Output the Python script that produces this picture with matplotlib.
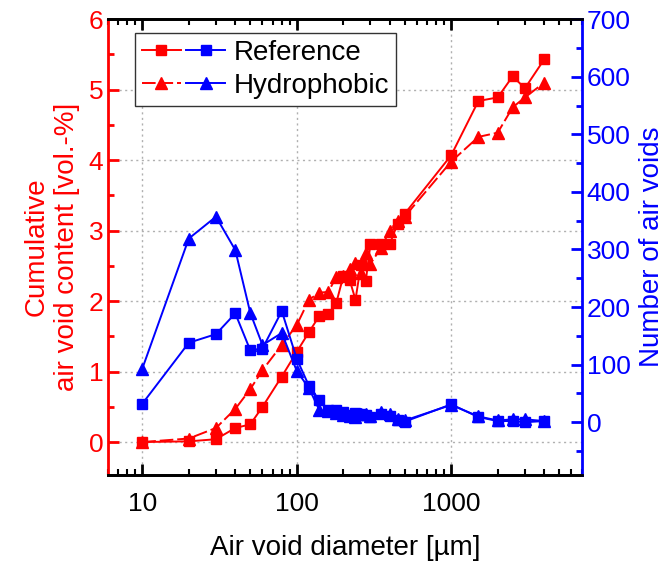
import matplotlib
matplotlib.use('Agg')
import matplotlib.pyplot as plt
from matplotlib.ticker import MultipleLocator, LogLocator, FuncFormatter, NullFormatter
from matplotlib.legend_handler import HandlerTuple

plt.rcParams['font.family'] = ['Liberation Sans', 'DejaVu Sans']

# classes de diametro (um)
diameter = [10, 20, 30, 40, 50, 60, 80, 100, 120, 140, 160, 180, 200, 220, 240,
            260, 280, 300, 350, 400, 450, 500, 1000, 1500, 2000, 2500, 3000, 4000]

# teor de vazios acumulado (vol.-%)
cum_reference = [0.0, 0.01, 0.04, 0.2, 0.25, 0.5, 0.93, 1.28, 1.56, 1.79, 1.82, 1.97, 2.35, 2.3, 2.02,
                 2.51, 2.29, 2.81, 2.81, 2.81, 3.1, 3.24, 4.07, 4.84, 4.89, 5.19, 5.02, 5.43]
cum_hydrophobic = [0.0, 0.05, 0.2, 0.47, 0.75, 1.02, 1.38, 1.66, 2.02, 2.12, 2.13, 2.34, 2.36, 2.45, 2.54,
                   2.4, 2.68, 2.53, 2.75, 3.0, 3.14, 3.2, 3.98, 4.33, 4.39, 4.75, 4.89, 5.1]

# numero de vazios por classe
num_reference = [32, 138, 153, 189, 125, 128, 193, 110, 63, 38, 22, 22, 18, 12, 16,
                 15, 12, 9, 14, 10, 4, 1, 31, 9, 2, 2, 0, 2]
num_hydrophobic = [93, 319, 357, 299, 190, 134, 155, 89, 59, 21, 19, 16, 12, 10, 9,
                   14, 14, 10, 17, 14, 5, 3, 30, 10, 3, 5, 5, 2]

RED = '#ff0000'
BLUE = '#0000ff'

fig, ax = plt.subplots(figsize=(6.71, 5.65), dpi=100)
fig.subplots_adjust(left=0.161, right=0.867, top=0.966, bottom=0.159)
ax2 = ax.twinx()

# curvas acumuladas (eixo esquerdo)
r1, = ax.plot(diameter, cum_reference, '-', color=RED, marker='s', markersize=7, linewidth=1.4)
h1, = ax.plot(diameter, cum_hydrophobic, color=RED, marker='^', markersize=8, linewidth=1.4,
              dashes=(7, 2))

# numero de vazios (eixo direito)
r2, = ax2.plot(diameter, num_reference, '-', color=BLUE, marker='s', markersize=7, linewidth=1.4)
h2, = ax2.plot(diameter, num_hydrophobic, '-', color=BLUE, marker='^', markersize=8, linewidth=1.4)

ax.set_xscale('log')
ax.set_xlim(6, 7000)
ax.set_ylim(-0.47, 6)
ax2.set_ylim(-92, 700)

ax.xaxis.set_major_locator(LogLocator(base=10))
ax.xaxis.set_minor_locator(LogLocator(base=10, subs=range(2, 10)))
ax.xaxis.set_major_formatter(FuncFormatter(lambda v, p: '%d' % v))
ax.xaxis.set_minor_formatter(NullFormatter())
ax.yaxis.set_major_locator(MultipleLocator(1))
ax.yaxis.set_minor_locator(MultipleLocator(0.5))
ax2.yaxis.set_major_locator(MultipleLocator(100))
ax2.yaxis.set_minor_locator(MultipleLocator(50))

ax.grid(True, which='major', color='#b0b0b0', linestyle=(0, (1.5, 2.5)), linewidth=1)

# eixos e ticks
for a in (ax, ax2):
    for s in a.spines.values():
        s.set_linewidth(2)
ax.spines['left'].set_color(RED)
ax2.spines['left'].set_visible(False)
ax2.spines['right'].set_color(BLUE)
ax.spines['right'].set_visible(False)

ax.tick_params(axis='x', which='both', direction='in', top=True, color='black', labelsize=19, pad=12)
ax.tick_params(axis='x', which='major', length=8, width=2)
ax.tick_params(axis='x', which='minor', length=4, width=1.5)
ax.tick_params(axis='y', which='both', direction='in', color=RED, labelcolor=RED, labelsize=19)
ax.tick_params(axis='y', which='major', length=8, width=2)
ax.tick_params(axis='y', which='minor', length=4, width=2)
ax2.tick_params(axis='y', which='both', direction='in', color=BLUE, labelcolor=BLUE, labelsize=19)
ax2.tick_params(axis='y', which='major', length=8, width=2)
ax2.tick_params(axis='y', which='minor', length=4, width=2)

ax.set_xlabel('Air void diameter [µm]', fontsize=20, labelpad=14)
ax.set_ylabel('Cumulative\nair void content [vol.-%]', fontsize=20, color=RED, labelpad=6)
ax2.set_ylabel('Number of air voids', fontsize=20, color=BLUE, labelpad=6)

leg = ax2.legend([(r1, r2), (h1, h2)], ['Reference', 'Hydrophobic'],
                 handler_map={tuple: HandlerTuple(ndivide=None, pad=0.2)},
                 loc='upper left', bbox_to_anchor=(0.057, 0.97), borderaxespad=0, fontsize=20,
                 handlelength=3.0, handletextpad=0.3, borderpad=0.25, labelspacing=0.25,
                 fancybox=False, framealpha=1, edgecolor='#333333')
leg.get_frame().set_linewidth(1)

fig.savefig('out.png', dpi=100)
